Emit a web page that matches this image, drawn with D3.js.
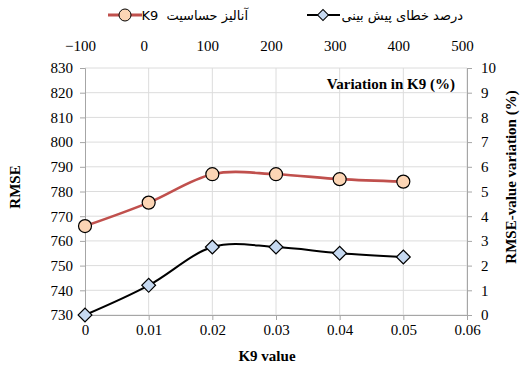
<!DOCTYPE html>
<html>
<head>
<meta charset="utf-8">
<script src="https://cdn.jsdelivr.net/npm/d3@7"></script>
<style>
  body { margin: 0; background: #fff; }
</style>
</head>
<body>
<div id="chart"></div>
<script>
// data
const k9Values = [0, 0.01, 0.02, 0.03, 0.04, 0.05];
const rmseValues = [766, 775.5, 787, 787, 785, 784];
const errorPercent = [0, 1.2, 2.75, 2.75, 2.5, 2.35];
const topTicks = [-100, 0, 100, 200, 300, 400, 500];
const seriesNames = ["آنالیز حساسیت  K9", "درصد خطای پیش بینی"];

const serif = "'Liberation Serif', 'Times New Roman', 'DejaVu Serif', serif";
const persian = "'DejaVu Sans', 'Noto Sans', sans-serif";

const width = 531, height = 366;
const margin = { top: 68, right: 64, bottom: 51, left: 85 };

const svg = d3.select("#chart").append("svg")
  .attr("width", width).attr("height", height)
  .style("font-family", serif);

const x = d3.scaleLinear().domain([0, 0.06]).range([margin.left, width - margin.right]);
const xTop = d3.scaleLinear().domain([-100, 500]).range([margin.left - 5, width - margin.right - 5]);
const yL = d3.scaleLinear().domain([730, 830]).range([height - margin.bottom, margin.top]);
const yR = d3.scaleLinear().domain([0, 10]).range([height - margin.bottom, margin.top]);

// grid
const grid = svg.append("g").attr("stroke", "#dcdcdc").attr("stroke-width", 1);
grid.selectAll(".h").data(d3.range(730, 831, 10)).join("line")
  .attr("x1", margin.left).attr("x2", width - margin.right)
  .attr("y1", d => yL(d)).attr("y2", d => yL(d));
grid.selectAll(".v").data(d3.range(0.01, 0.0601, 0.01)).join("line")
  .attr("y1", margin.top).attr("y2", height - margin.bottom)
  .attr("x1", d => x(d)).attr("x2", d => x(d));

function styleAxis(g) {
  g.attr("font-family", null);
  g.selectAll("path, line").attr("stroke", "#a6a6a6");
  g.selectAll("text").attr("font-size", 15).attr("fill", "#000")
    .style("font-family", serif);
}

svg.append("g")
  .attr("transform", `translate(0,${height - margin.bottom})`)
  .call(d3.axisBottom(x).tickValues(d3.range(0, 0.0601, 0.01)).tickFormat(d => d3.format("~g")(+d.toFixed(2))).tickSize(5).tickPadding(4))
  .call(styleAxis);

svg.append("g")
  .attr("transform", `translate(${margin.left},0)`)
  .call(d3.axisLeft(yL).tickValues(d3.range(730, 831, 10)).tickSize(5).tickPadding(7))
  .call(styleAxis);

svg.append("g")
  .attr("transform", `translate(${width - margin.right},0)`)
  .call(d3.axisRight(yR).tickValues(d3.range(0, 11, 1)).tickSize(5).tickPadding(9))
  .call(styleAxis);

const topAxis = svg.append("g")
  .attr("transform", `translate(0,${margin.top - 17})`)
  .call(d3.axisTop(xTop).tickValues(topTicks).tickSize(0).tickPadding(0))
  .call(styleAxis);
topAxis.select(".domain").remove();

// axis titles
svg.append("text").attr("x", 267).attr("y", 361).attr("text-anchor", "middle")
  .attr("font-size", 15).attr("font-weight", "bold").text("K9 value");
svg.append("text").attr("transform", "translate(20,187) rotate(-90)").attr("text-anchor", "middle")
  .attr("font-size", 15).attr("font-weight", "bold").text("RMSE");
svg.append("text").attr("transform", "translate(516,177) rotate(-90)").attr("text-anchor", "middle")
  .attr("font-size", 15).attr("font-weight", "bold").text("RMSE-value variation (%)");
svg.append("text").attr("x", 455).attr("y", 89).attr("text-anchor", "end")
  .attr("font-size", 15).attr("font-weight", "bold").text("Variation in K9 (%)");

// lines
const curve = d3.curveCardinal.tension(0);
const redLine = d3.line().x((d, i) => x(k9Values[i])).y(d => yL(d)).curve(curve);
const blackLine = d3.line().x((d, i) => x(k9Values[i])).y(d => yR(d)).curve(curve);

svg.append("path").datum(errorPercent).attr("d", blackLine)
  .attr("fill", "none").attr("stroke", "#000").attr("stroke-width", 2);
svg.append("path").datum(rmseValues).attr("d", redLine)
  .attr("fill", "none").attr("stroke", "#c0504d").attr("stroke-width", 2.6);

const diamond = d3.symbol().type(d3.symbolSquare).size(95);
svg.append("g").selectAll("path").data(errorPercent).join("path")
  .attr("d", diamond)
  .attr("transform", (d, i) => `translate(${x(k9Values[i])},${yR(d)}) rotate(45)`)
  .attr("fill", "#c6d9f1").attr("stroke", "#000").attr("stroke-width", 1.2);

svg.append("g").selectAll("circle").data(rmseValues).join("circle")
  .attr("cx", (d, i) => x(k9Values[i])).attr("cy", d => yL(d)).attr("r", 6.5)
  .attr("fill", "#fcd5b5").attr("stroke", "#000").attr("stroke-width", 1.2);

// legend
const legend = svg.append("g");
legend.append("line").attr("x1", 108).attr("x2", 142).attr("y1", 15).attr("y2", 15)
  .attr("stroke", "#c0504d").attr("stroke-width", 3);
legend.append("circle").attr("cx", 125).attr("cy", 15).attr("r", 6)
  .attr("fill", "#fcd5b5").attr("stroke", "#000").attr("stroke-width", 1);
legend.append("text").attr("x", 248).attr("y", 20).attr("direction", "rtl").attr("text-anchor", "start")
  .attr("font-size", 13).style("font-family", persian).style("white-space", "pre").text(seriesNames[0]);

legend.append("line").attr("x1", 307).attr("x2", 340).attr("y1", 15).attr("y2", 15)
  .attr("stroke", "#000").attr("stroke-width", 2);
legend.append("path").attr("d", d3.symbol().type(d3.symbolSquare).size(60))
  .attr("transform", "translate(323,15) rotate(45)")
  .attr("fill", "#c6d9f1").attr("stroke", "#000").attr("stroke-width", 1);
legend.append("text").attr("x", 463).attr("y", 20).attr("direction", "rtl").attr("text-anchor", "start")
  .attr("font-size", 13).style("font-family", persian).text(seriesNames[1]);
</script>
</body>
</html>
